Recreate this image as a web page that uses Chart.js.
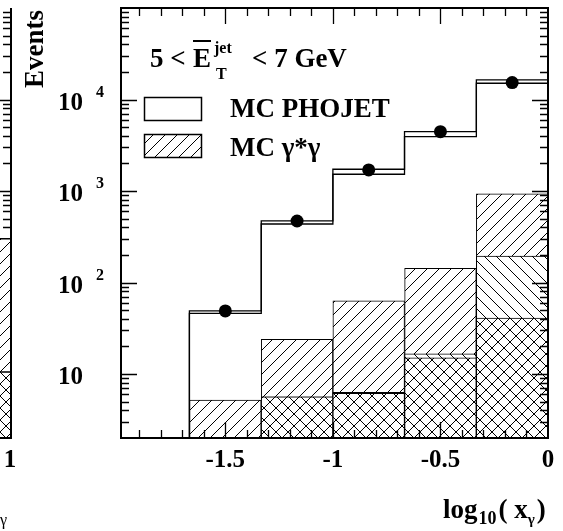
<!DOCTYPE html>
<html><head><meta charset="utf-8">
<script src="https://cdn.jsdelivr.net/npm/chart.js@4/dist/chart.umd.min.js"></script>
<style>html,body{margin:0;padding:0;background:#fff;} canvas{display:block;}</style>
</head><body>
<canvas id="c" width="563" height="531"></canvas>
<script>
// ---- data ----
const binEdges = [-1.667, -1.333, -1.0, -0.667, -0.333, 0.0];
const phojetUpper = [49, 471, 1730, 4450, 16400];
const phojetLower = [46, 436, 1525, 3930, 15060];
const dataEvents = [49, 470, 1700, 4450, 15300];
const gammaStarTotal = [5.2, 24, 63, 143, 930];
const gammaStarMid = [null, 5.65, 6.3, 16.6, 195];
const gammaStarLow = [null, 5.65, 6.15, 15.0, 41];
const xTickValues = [-1.5, -1, -0.5, 0];
const xTickLabels = ['-1.5', '-1', '-0.5', '0'];
const yTickValues = [10, 100, 1000, 10000];
const yTickBase = ['10', '10', '10', '10'];
const yTickExp = ['', '2', '3', '4'];
const legendLabels = ['MC PHOJET', 'MC γ*γ'];
const X_MIN = -1.985, X_MAX = 0, Y_MIN = 2, Y_MAX = 1e5;
// neighbouring (cut-off) panel on the left
const leftPanelTotal = 300, leftPanelCross = 10.5;
const leftPanelTickLabel = '1';

const FONT = '"Liberation Serif", "DejaVu Serif", serif';
const canvas = document.getElementById('c');
const mainCtx = canvas.getContext('2d');

function makeHatch(kind) {
  const s = 12;
  const c = document.createElement('canvas'); c.width = s; c.height = s;
  const g = c.getContext('2d');
  g.fillStyle = '#fff'; g.fillRect(0, 0, s, s);
  g.strokeStyle = '#000'; g.lineWidth = 1;
  g.beginPath();
  if (kind.includes('/')) {
    g.moveTo(-2, s + 2); g.lineTo(s + 2, -2);
    g.moveTo(-2, 2); g.lineTo(2, -2);
    g.moveTo(s - 2, s + 2); g.lineTo(s + 2, s - 2);
  }
  if (kind.includes('\\')) {
    g.moveTo(-2, -2); g.lineTo(s + 2, s + 2);
    g.moveTo(s - 2, -2); g.lineTo(s + 2, 2);
    g.moveTo(-2, s - 2); g.lineTo(2, s + 2);
  }
  g.stroke();
  return mainCtx.createPattern(c, 'repeat');
}
const patSlash = makeHatch('/');
const patBack = makeHatch('\\');
const patCross = makeHatch('/\\');

const centers = binEdges.slice(0, -1).map((e, i) => (e + binEdges[i + 1]) / 2);
const pts = arr => arr.map((v, i) => ({ x: centers[i], y: v }));
const stepPts = arr => [{ x: binEdges[0], y: Y_MIN }].concat(arr.map((v, i) => ({ x: binEdges[i + 1], y: v })));

const barCommon = {
  type: 'bar', borderColor: '#000', borderWidth: 1, borderSkipped: false,
  grouped: false, barPercentage: 1, categoryPercentage: 1
};

const decor = {
  id: 'decor',
  afterDraw(chart) {
    const ctx = chart.ctx;
    const { left, right, top, bottom } = chart.chartArea;
    const xs = chart.scales.x, ys = chart.scales.y;
    ctx.save();
    // frame
    ctx.strokeStyle = '#000'; ctx.lineWidth = 2;
    ctx.strokeRect(left, top, right - left, bottom - top);
    // x ticks (inward, top & bottom)
    ctx.lineWidth = 1.3;
    ctx.beginPath();
    for (let i = -19; i <= -1; i++) {
      const v = i / 10; if (v < X_MIN) continue;
      const px = Math.round(xs.getPixelForValue(v)) + 0.5;
      const L = (i % 5 === 0) ? 16 : 8;
      ctx.moveTo(px, bottom); ctx.lineTo(px, bottom - L);
      ctx.moveTo(px, top); ctx.lineTo(px, top + L);
    }
    // y ticks (inward, left & right) + left-panel ticks
    for (let d = 0; d <= 5; d++) {
      for (let k = 1; k <= 9; k++) {
        const v = k * Math.pow(10, d);
        if (v <= Y_MIN || v >= Y_MAX) continue;
        const py = Math.round(ys.getPixelForValue(v)) + 0.5;
        const L = (k === 1) ? 16 : 8;
        ctx.moveTo(left, py); ctx.lineTo(left + L, py);
        ctx.moveTo(right, py); ctx.lineTo(right - L, py);
        ctx.moveTo(11, py); ctx.lineTo(11 - L, py);
      }
    }
    ctx.stroke();

    // left cut-off panel
    const yT = ys.getPixelForValue(leftPanelTotal), yC = ys.getPixelForValue(leftPanelCross);
    ctx.fillStyle = patSlash; ctx.fillRect(0, yT, 11, yC - yT);
    ctx.fillStyle = patCross; ctx.fillRect(0, yC, 11, bottom - yC);
    ctx.lineWidth = 1.5; ctx.beginPath();
    ctx.moveTo(0, yT); ctx.lineTo(11, yT); ctx.moveTo(0, yC); ctx.lineTo(11, yC); ctx.stroke();
    ctx.lineWidth = 2; ctx.beginPath();
    ctx.moveTo(11, top); ctx.lineTo(11, bottom); ctx.lineTo(0, bottom); ctx.stroke();
    ctx.fillStyle = '#000';
    ctx.font = 'bold 25px ' + FONT; ctx.textAlign = 'center'; ctx.textBaseline = 'alphabetic';
    ctx.fillText(leftPanelTickLabel, 10, 467);
    ctx.font = '16px ' + FONT; ctx.textAlign = 'left';
    ctx.fillText('γ', 0, 525);

    // x tick labels
    ctx.fillStyle = '#000';
    ctx.font = 'bold 25px ' + FONT; ctx.textAlign = 'center'; ctx.textBaseline = 'alphabetic';
    xTickValues.forEach((v, i) => ctx.fillText(xTickLabels[i], xs.getPixelForValue(v), 467));
    // y tick labels
    yTickValues.forEach((v, i) => {
      const py = ys.getPixelForValue(v);
      ctx.font = 'bold 25px ' + FONT; ctx.textAlign = 'left'; ctx.textBaseline = 'alphabetic';
      ctx.fillText(yTickBase[i], 58, py + 10);
      if (yTickExp[i]) {
        ctx.font = 'bold 16px ' + FONT;
        ctx.fillText(yTickExp[i], 96, py - 3);
      }
    });
    // y title
    ctx.save();
    ctx.translate(43, 10); ctx.rotate(-Math.PI / 2);
    ctx.font = 'bold 27px ' + FONT; ctx.textAlign = 'right';
    ctx.fillText('Events', 0, 0);
    ctx.restore();
    // x title log10(x_gamma)
    let tx = 443; const tb = 518;
    ctx.textAlign = 'left';
    const seg = (t, f, dy, gap) => { ctx.font = 'bold ' + f + 'px ' + FONT; ctx.fillText(t, tx, tb + dy); tx += ctx.measureText(t).width + (gap || 0); };
    seg('log', 27, 0, 1); seg('10', 18, 6, 2); seg('( x', 27, 0, 0); seg('γ', 15, 6, 2); seg(')', 27, 0);

    // legend header
    ctx.font = 'bold 27px ' + FONT;
    ctx.fillText('5 <', 150, 67);
    ctx.fillText('E', 193, 67);
    const eW = ctx.measureText('E').width;
    ctx.lineWidth = 2; ctx.beginPath(); ctx.moveTo(193, 41); ctx.lineTo(193 + eW, 41); ctx.stroke();
    ctx.font = 'bold 16px ' + FONT;
    ctx.fillText('jet', 214, 53);
    ctx.fillText('T', 216, 79);
    ctx.font = 'bold 27px ' + FONT;
    ctx.fillText('< 7 GeV', 252, 67);
    // legend entries
    ctx.lineWidth = 1.5;
    ctx.fillStyle = '#fff'; ctx.fillRect(144, 97, 57, 23);
    ctx.strokeRect(144.5, 97.5, 57, 23);
    ctx.fillStyle = patSlash; ctx.fillRect(144, 134, 57, 23);
    ctx.strokeRect(144.5, 134.5, 57, 23);
    ctx.fillStyle = '#000';
    ctx.font = 'bold 27px ' + FONT;
    ctx.fillText(legendLabels[0], 230, 117);
    ctx.fillText(legendLabels[1], 230, 156);
    ctx.restore();
  }
};

new Chart(canvas, {
  type: 'bar',
  data: {
    datasets: [
      { type: 'scatter', data: pts(dataEvents), pointRadius: 6.5, pointHoverRadius: 6.5,
        backgroundColor: '#000', borderColor: '#000', borderWidth: 0, order: 0 },
      { type: 'line', data: stepPts(phojetUpper), stepped: 'after', borderColor: '#000',
        borderWidth: 1.3, pointRadius: 0, fill: false, order: 1 },
      { type: 'line', data: stepPts(phojetLower), stepped: 'after', borderColor: '#000',
        borderWidth: 1.3, pointRadius: 0, fill: false, order: 1 },
      Object.assign({}, barCommon, { data: pts(gammaStarLow), backgroundColor: patCross, order: 2 }),
      Object.assign({}, barCommon, { data: pts(gammaStarMid), backgroundColor: patBack, order: 3 }),
      Object.assign({}, barCommon, { data: pts(gammaStarTotal), backgroundColor: patSlash, order: 4 })
    ]
  },
  options: {
    responsive: false, animation: false, devicePixelRatio: 1,
    layout: { padding: { left: 121, right: 15, top: 8, bottom: 93 } },
    plugins: { legend: { display: false }, tooltip: { enabled: false }, title: { display: false } },
    events: [],
    scales: {
      x: { type: 'linear', min: X_MIN, max: X_MAX, offset: false, display: false,
           afterBuildTicks: s => { s.ticks = binEdges.map(v => ({ value: v })); } },
      y: { type: 'logarithmic', min: Y_MIN, max: Y_MAX, display: false }
    }
  },
  plugins: [decor]
});
</script>
</body></html>
